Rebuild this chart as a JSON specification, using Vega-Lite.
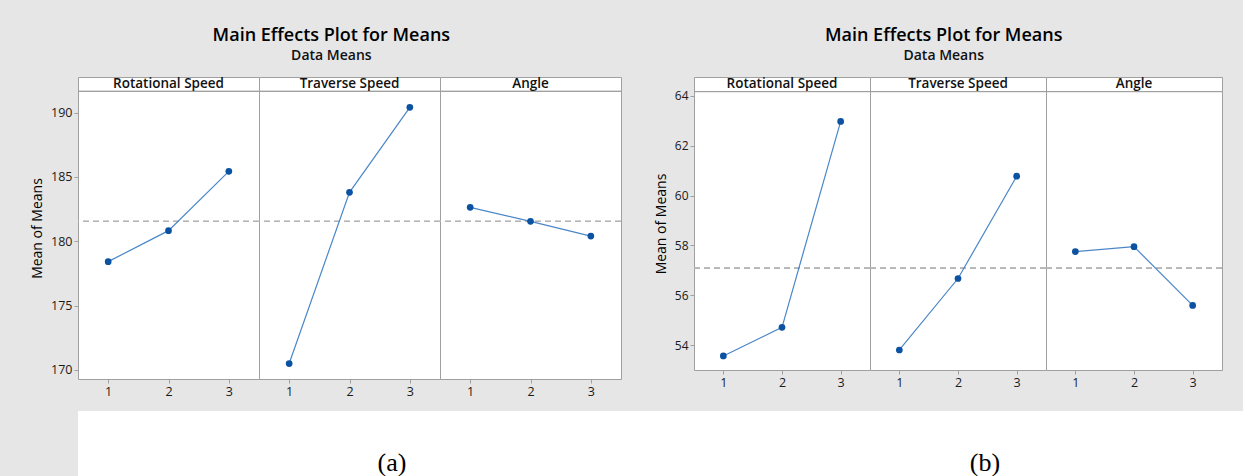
{
  "$schema": "https://vega.github.io/schema/vega-lite/v6.json",
  "padding": {"left": 30, "right": 0, "top": 26, "bottom": 0},
  "background": "#e6e6e6",
  "datasets": {
    "a": [
      {"factor": "Rotational Speed", "level": "1", "mean": 178.42},
      {"factor": "Rotational Speed", "level": "2", "mean": 180.83},
      {"factor": "Rotational Speed", "level": "3", "mean": 185.44},
      {"factor": "Traverse Speed", "level": "1", "mean": 170.5},
      {"factor": "Traverse Speed", "level": "2", "mean": 183.81},
      {"factor": "Traverse Speed", "level": "3", "mean": 190.41},
      {"factor": "Angle", "level": "1", "mean": 182.64},
      {"factor": "Angle", "level": "2", "mean": 181.55},
      {"factor": "Angle", "level": "3", "mean": 180.41}
    ],
    "b": [
      {"factor": "Rotational Speed", "level": "1", "mean": 53.56},
      {"factor": "Rotational Speed", "level": "2", "mean": 54.71},
      {"factor": "Rotational Speed", "level": "3", "mean": 62.98},
      {"factor": "Traverse Speed", "level": "1", "mean": 53.8},
      {"factor": "Traverse Speed", "level": "2", "mean": 56.67},
      {"factor": "Traverse Speed", "level": "3", "mean": 60.78},
      {"factor": "Angle", "level": "1", "mean": 57.75},
      {"factor": "Angle", "level": "2", "mean": 57.95},
      {"factor": "Angle", "level": "3", "mean": 55.59}
    ],
    "cap": [{"caption": "(a)"}, {"caption": "(b)"}]
  },
  "vconcat": [
    {
      "hconcat": [
        {
          "data": {"name": "a"},
          "title": {"text": "Main Effects Plot for Means", "subtitle": "Data Means"},
          "facet": {"column": {"field": "factor", "type": "nominal", "sort": ["Rotational Speed", "Traverse Speed", "Angle"], "header": null}},
          "spacing": 0,
          "bounds": "flush",
          "spec": {
            "width": 181,
            "height": 302,
            "layer": [
              {
                "mark": {"type": "rule", "color": "#b4b4b4", "strokeDash": [6, 4], "strokeWidth": 1.3},
                "encoding": {"y": {"datum": 181.55, "type": "quantitative", "scale": {"domain": [169.3, 192.77], "nice": false, "zero": false}, "axis": {"title": "Mean of Means", "values": [170, 175, 180, 185, 190], "labelFontSize": 12.5, "titleFontSize": 14, "titlePadding": 6}}}
              },
              {
                "mark": {"type": "rule", "color": "#a0a0a0", "strokeWidth": 1},
                "encoding": {"y": {"datum": 191.655, "type": "quantitative", "scale": {"domain": [169.3, 192.77], "nice": false, "zero": false}, "axis": {"title": "Mean of Means", "values": [170, 175, 180, 185, 190], "labelFontSize": 12.5, "titleFontSize": 14, "titlePadding": 6}}}
              },
              {
                "transform": [{"filter": "datum.level == '2'"}],
                "mark": {"type": "text", "fontSize": 13.5, "fontWeight": 600, "color": "#111111", "baseline": "middle"},
                "encoding": {
                  "x": {"field": "level", "type": "ordinal", "scale": {"type": "point", "padding": 0.5}, "axis": {"title": null, "labelAngle": 0, "labelFontSize": 12.5}},
                  "y": {"datum": 192.21, "type": "quantitative", "scale": {"domain": [169.3, 192.77], "nice": false, "zero": false}, "axis": {"title": "Mean of Means", "values": [170, 175, 180, 185, 190], "labelFontSize": 12.5, "titleFontSize": 14, "titlePadding": 6}},
                  "text": {"field": "factor"}
                }
              },
              {
                "mark": {"type": "line", "color": "#4a86c8", "strokeWidth": 1.2},
                "encoding": {
                  "x": {"field": "level", "type": "ordinal", "scale": {"type": "point", "padding": 0.5}, "axis": {"title": null, "labelAngle": 0, "labelFontSize": 12.5}},
                  "y": {"field": "mean", "type": "quantitative", "scale": {"domain": [169.3, 192.77], "nice": false, "zero": false}, "axis": {"title": "Mean of Means", "values": [170, 175, 180, 185, 190], "labelFontSize": 12.5, "titleFontSize": 14, "titlePadding": 6}}
                }
              },
              {
                "mark": {"type": "point", "filled": true, "size": 45, "color": "#0b52a2", "opacity": 1},
                "encoding": {
                  "x": {"field": "level", "type": "ordinal", "scale": {"type": "point", "padding": 0.5}, "axis": {"title": null, "labelAngle": 0, "labelFontSize": 12.5}},
                  "y": {"field": "mean", "type": "quantitative", "scale": {"domain": [169.3, 192.77], "nice": false, "zero": false}, "axis": {"title": "Mean of Means", "values": [170, 175, 180, 185, 190], "labelFontSize": 12.5, "titleFontSize": 14, "titlePadding": 6}}
                }
              }
            ]
          }
        },
        {
          "data": {"name": "b"},
          "title": {"text": "Main Effects Plot for Means", "subtitle": "Data Means"},
          "facet": {"column": {"field": "factor", "type": "nominal", "sort": ["Rotational Speed", "Traverse Speed", "Angle"], "header": null}},
          "spacing": 0,
          "bounds": "flush",
          "spec": {
            "width": 176,
            "height": 293,
            "layer": [
              {
                "mark": {"type": "rule", "color": "#b4b4b4", "strokeDash": [6, 4], "strokeWidth": 1.3},
                "encoding": {"y": {"datum": 57.09, "type": "quantitative", "scale": {"domain": [52.996, 64.763], "nice": false, "zero": false}, "axis": {"title": "Mean of Means", "values": [54, 56, 58, 60, 62, 64], "labelFontSize": 12, "titleFontSize": 14, "titlePadding": 6}}}
              },
              {
                "mark": {"type": "rule", "color": "#a0a0a0", "strokeWidth": 1},
                "encoding": {"y": {"datum": 64.177, "type": "quantitative", "scale": {"domain": [52.996, 64.763], "nice": false, "zero": false}, "axis": {"title": "Mean of Means", "values": [54, 56, 58, 60, 62, 64], "labelFontSize": 12, "titleFontSize": 14, "titlePadding": 6}}}
              },
              {
                "transform": [{"filter": "datum.level == '2'"}],
                "mark": {"type": "text", "fontSize": 13.5, "fontWeight": 600, "color": "#111111", "baseline": "middle"},
                "encoding": {
                  "x": {"field": "level", "type": "ordinal", "scale": {"type": "point", "padding": 0.5}, "axis": {"title": null, "labelAngle": 0, "labelFontSize": 12.5}},
                  "y": {"datum": 64.47, "type": "quantitative", "scale": {"domain": [52.996, 64.763], "nice": false, "zero": false}, "axis": {"title": "Mean of Means", "values": [54, 56, 58, 60, 62, 64], "labelFontSize": 12, "titleFontSize": 14, "titlePadding": 6}},
                  "text": {"field": "factor"}
                }
              },
              {
                "mark": {"type": "line", "color": "#4a86c8", "strokeWidth": 1.2},
                "encoding": {
                  "x": {"field": "level", "type": "ordinal", "scale": {"type": "point", "padding": 0.5}, "axis": {"title": null, "labelAngle": 0, "labelFontSize": 12.5}},
                  "y": {"field": "mean", "type": "quantitative", "scale": {"domain": [52.996, 64.763], "nice": false, "zero": false}, "axis": {"title": "Mean of Means", "values": [54, 56, 58, 60, 62, 64], "labelFontSize": 12, "titleFontSize": 14, "titlePadding": 6}}
                }
              },
              {
                "mark": {"type": "point", "filled": true, "size": 45, "color": "#0b52a2", "opacity": 1},
                "encoding": {
                  "x": {"field": "level", "type": "ordinal", "scale": {"type": "point", "padding": 0.5}, "axis": {"title": null, "labelAngle": 0, "labelFontSize": 12.5}},
                  "y": {"field": "mean", "type": "quantitative", "scale": {"domain": [52.996, 64.763], "nice": false, "zero": false}, "axis": {"title": "Mean of Means", "values": [54, 56, 58, 60, 62, 64], "labelFontSize": 12, "titleFontSize": 14, "titlePadding": 6}}
                }
              }
            ]
          }
        }
      ],
      "spacing": 31
    },
    {
      "data": {"name": "cap"},
      "width": 1213,
      "height": 67,
      "view": {"stroke": null, "fill": "white"},
      "mark": {"type": "text", "font": "Liberation Serif", "fontSize": 26, "dy": 18, "color": "#000000"},
      "encoding": {
        "x": {"field": "caption", "type": "nominal", "scale": {"type": "point", "padding": 0.5228, "align": 0.5065}, "axis": null},
        "text": {"field": "caption"}
      }
    }
  ],
  "spacing": 13,
  "align": "none",
  "config": {
    "font": "Open Sans",
    "view": {"fill": "white", "stroke": "#a0a0a0"},
    "axis": {"grid": false, "domain": false, "tickColor": "#a0a0a0", "tickSize": 4, "labelColor": "#1a1a1a", "labelPadding": 2, "titleFontWeight": "normal", "titleColor": "#000000", "labelFont": "Open Sans", "titleFont": "Open Sans"},
    "title": {"anchor": "middle", "dx": 5, "fontSize": 18, "fontWeight": 600, "color": "#000000", "subtitleFontSize": 14, "subtitleFontWeight": 600, "subtitleColor": "#111111", "subtitlePadding": 4, "offset": 13.6, "font": "Open Sans", "subtitleFont": "Open Sans"}
  }
}
